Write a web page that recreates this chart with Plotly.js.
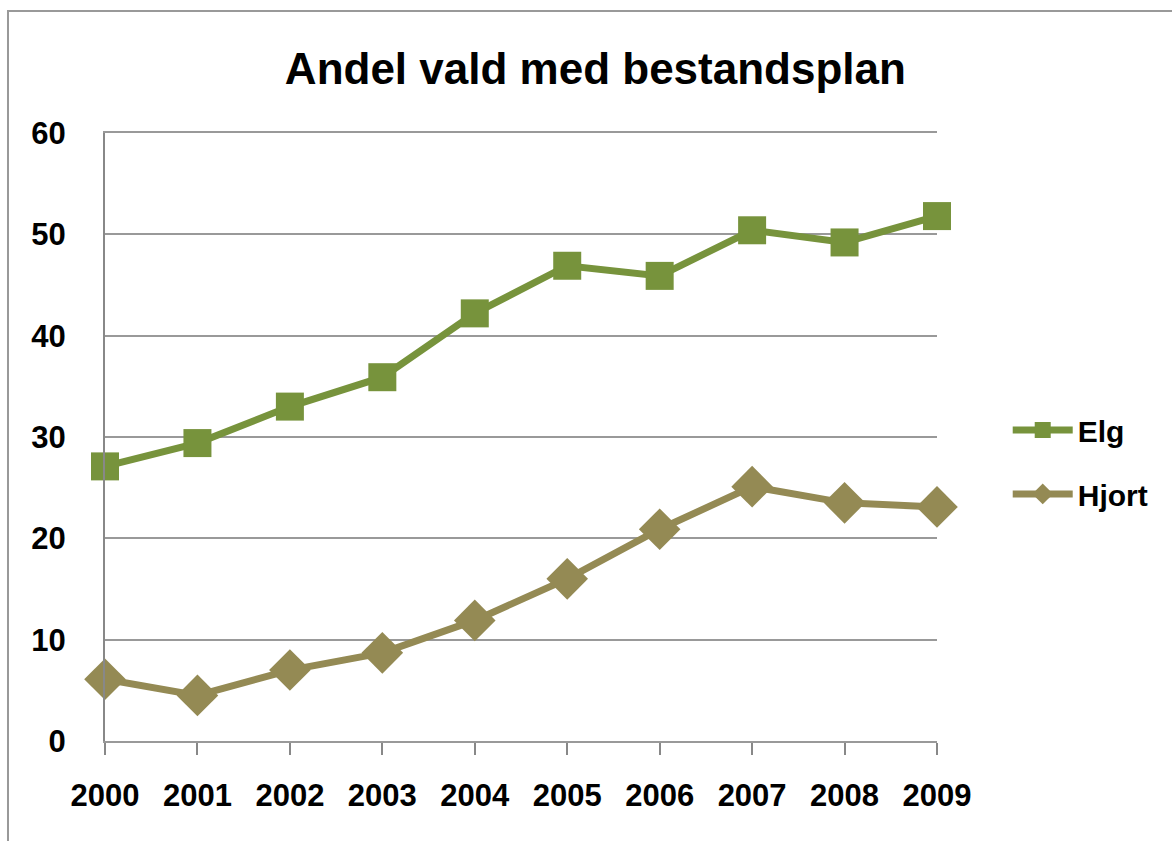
<!DOCTYPE html>
<html>
<head>
<meta charset="utf-8">
<script src="https://cdn.plot.ly/plotly-3.0.1.min.js"></script>
<style>html,body{margin:0;padding:0;background:#fff;}#chart{width:1172px;height:841px;}</style>
</head>
<body>
<div id="chart"></div>
<script>
const years = [2000, 2001, 2002, 2003, 2004, 2005, 2006, 2007, 2008, 2009];
const elg = [27.1, 29.4, 33.0, 35.9, 42.2, 46.9, 45.9, 50.4, 49.2, 51.8];
const hjort = [6.1, 4.5, 7.0, 8.7, 11.9, 16.0, 20.9, 25.1, 23.5, 23.1];
const yTicks = [0, 10, 20, 30, 40, 50, 60];

const font = "Liberation Sans, Arial, sans-serif";
const traces = [
  {x: years, y: elg, name: 'Elg', legendgroup: 'a', mode: 'lines+markers', type: 'scatter',
   line: {color: '#77933C', width: 7},
   marker: {symbol: 'square', size: 28, color: '#77933C'}, cliponaxis: false},
  {x: years, y: hjort, name: 'Hjort', legendgroup: 'b', mode: 'lines+markers', type: 'scatter',
   line: {color: '#948A54', width: 7},
   marker: {symbol: 'diamond', size: 32, color: '#948A54'}, cliponaxis: false}
];
const layout = {
  width: 1172, height: 841,
  margin: {l: 105, r: 235, t: 133, b: 100},
  paper_bgcolor: '#fff', plot_bgcolor: '#fff',
  title: {text: '<b>Andel vald med bestandsplan</b>', x: 0.508, xanchor: 'center', y: 0.918, yanchor: 'middle',
          font: {family: font, size: 44, color: '#000'}},
  xaxis: {range: [2000, 2009], tickvals: years, ticktext: years.map(String), showgrid: false,
          showline: true, mirror: true, linecolor: '#999', linewidth: 2, ticks: 'outside', ticklen: 12, tickcolor: '#888', tickwidth: 2,
          zeroline: false, ticklabelstandoff: 14,
          tickfont: {family: font, size: 31, color: '#000', weight: 'bold'}},
  yaxis: {range: [0, 60], tickvals: yTicks, showgrid: true, gridcolor: '#999', gridwidth: 1.5,
          showline: true, linecolor: '#888', linewidth: 2, ticks: '', zeroline: false, ticklabelstandoff: 31,
          tickfont: {family: font, size: 31, color: '#000', weight: 'bold'}},
  legend: {x: 1.085, y: 0.459, xanchor: 'left', yanchor: 'middle', bgcolor: 'rgba(0,0,0,0)',
           font: {family: font, size: 30, color: '#000', weight: 'bold'}, tracegroupgap: 22, itemwidth: 60},
  shapes: [
    {type: 'rect', xref: 'paper', yref: 'paper', x0: -0.1166, x1: 1.35, y0: -0.2, y1: 1.2007,
     line: {color: '#999', width: 2}, fillcolor: 'rgba(0,0,0,0)', layer: 'below'}
  ],
  showlegend: true
};
Plotly.newPlot('chart', traces, layout, {displayModeBar: false});
</script>
</body>
</html>
